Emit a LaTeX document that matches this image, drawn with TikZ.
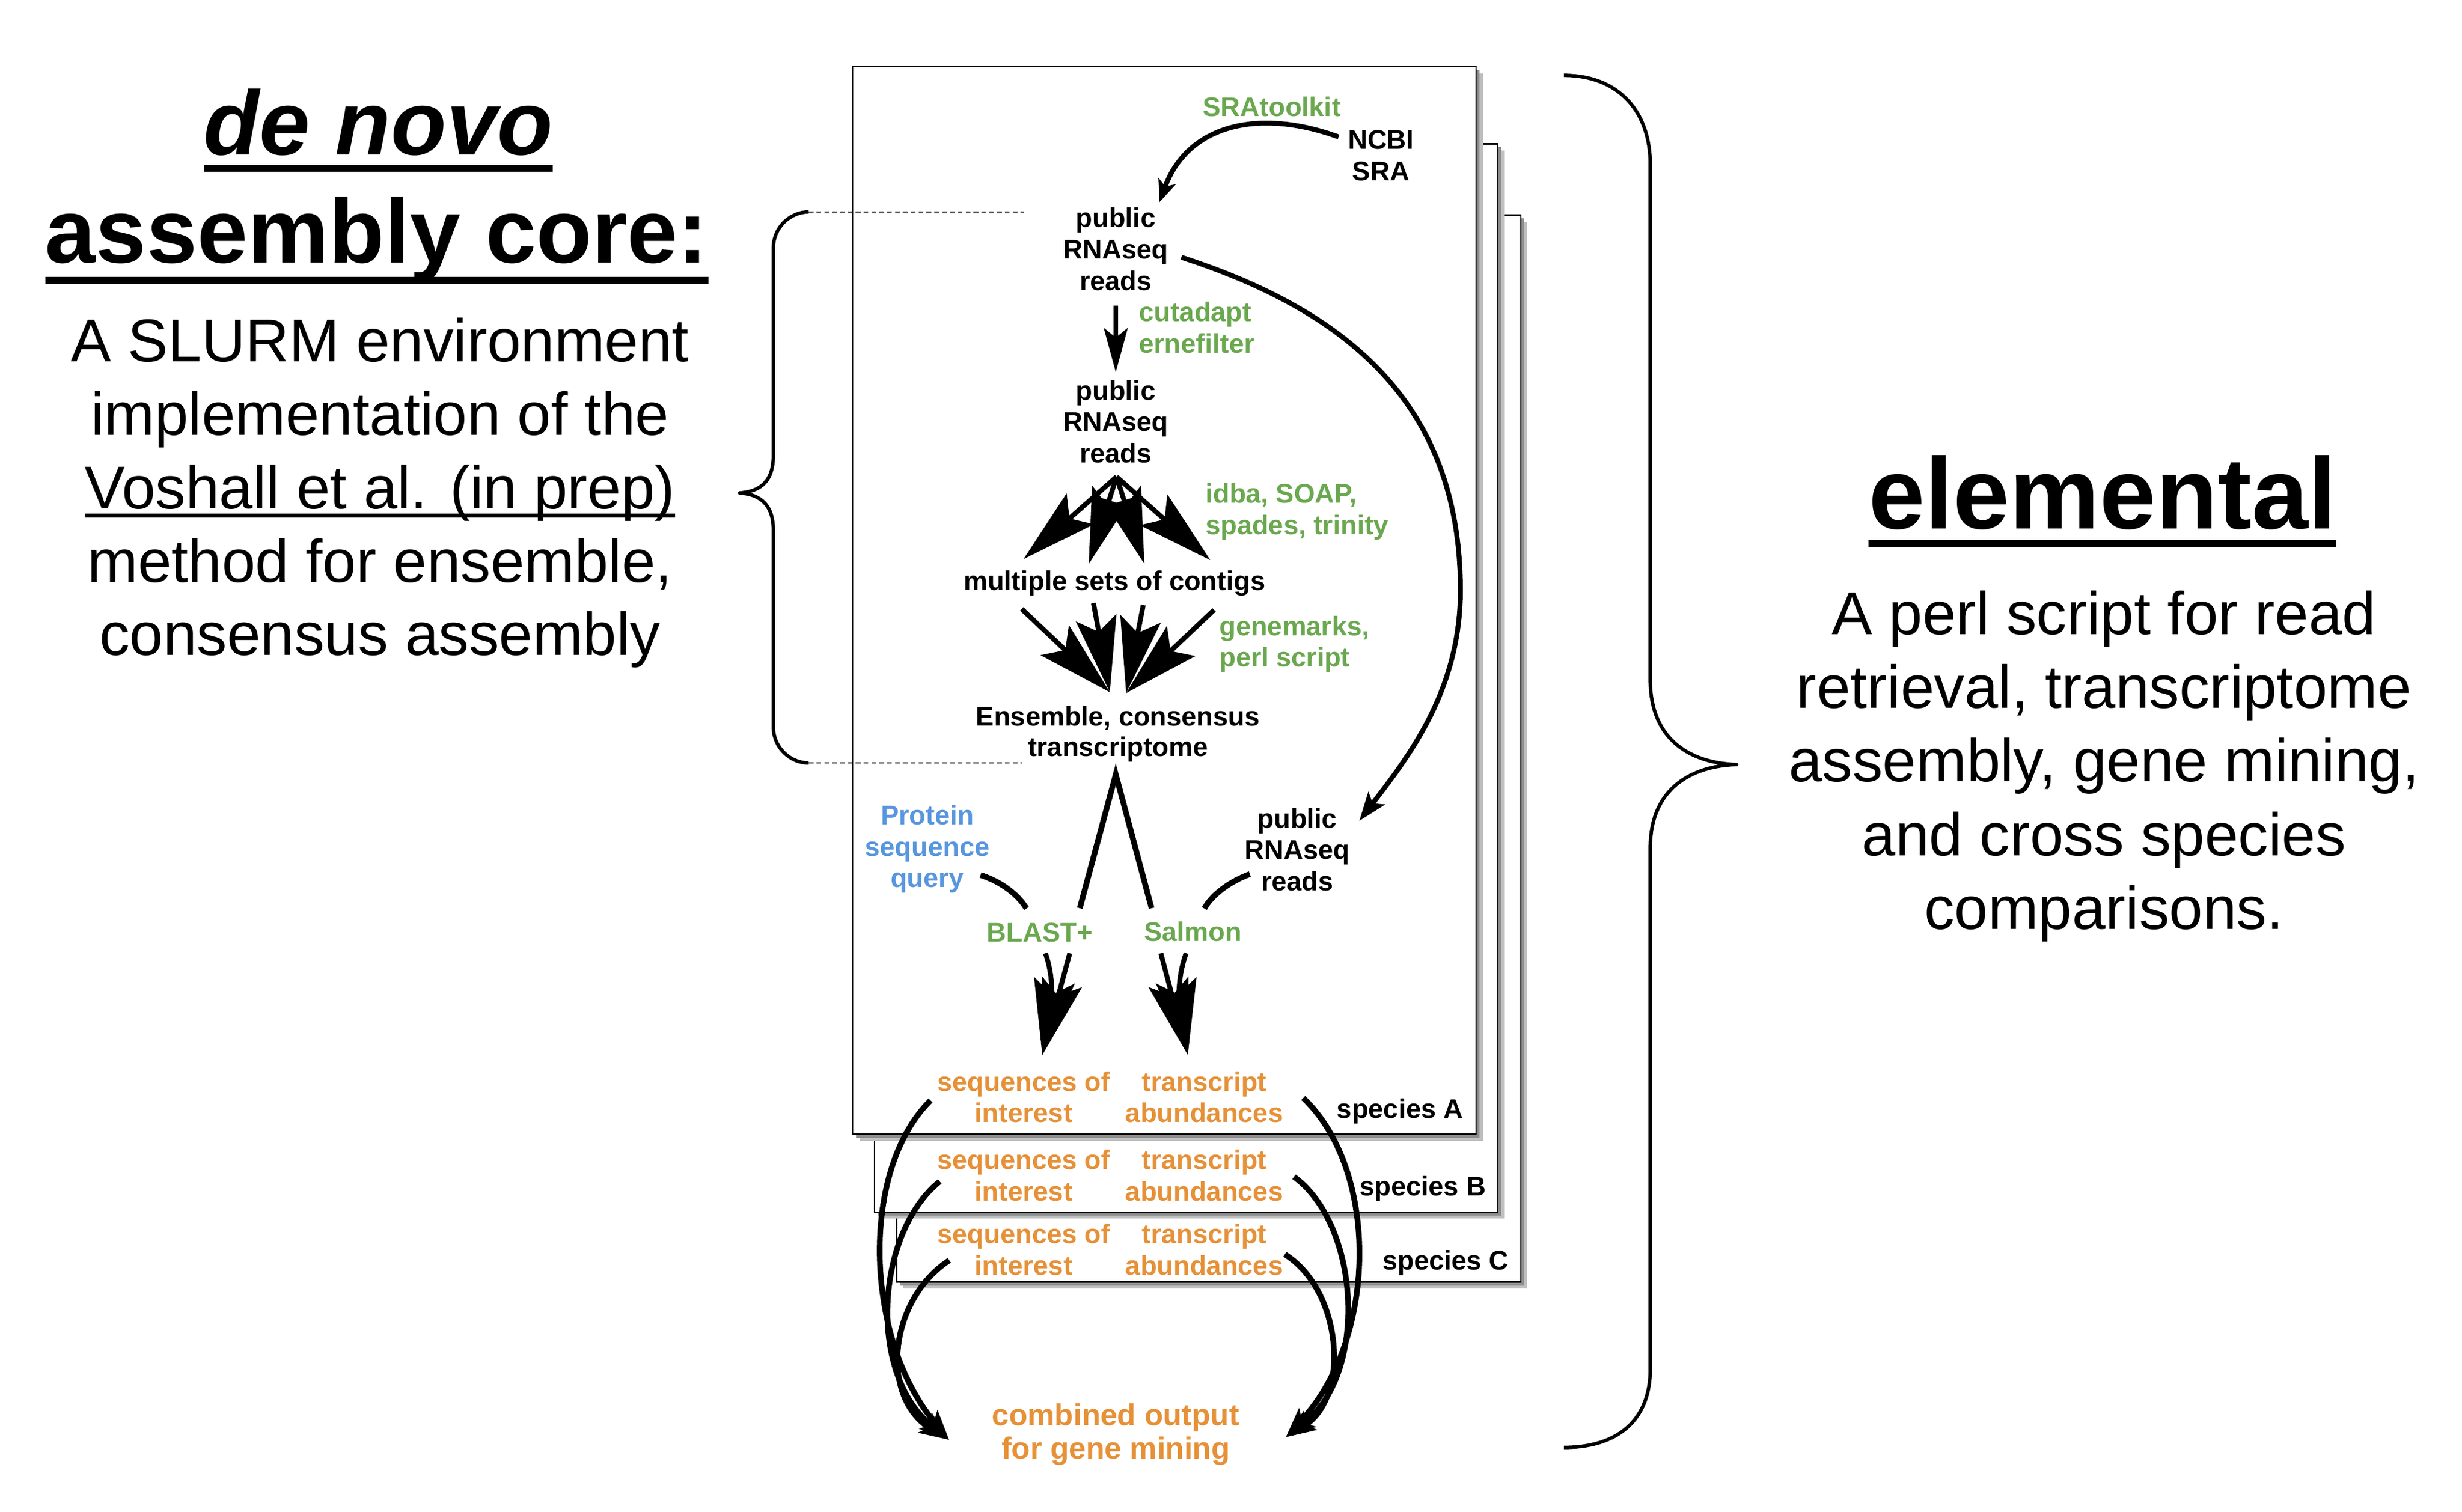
\documentclass[tikz,border=0pt]{standalone}
\usepackage{fontspec}
\setmainfont{Liberation Sans}
\usetikzlibrary{arrows.meta,calc}
\definecolor{tgreen}{RGB}{106,168,79}
\definecolor{tblue}{RGB}{88,150,222}
\definecolor{torange}{RGB}{230,145,56}
\newsavebox\ulbox
\newcommand\ulx[3]{\sbox\ulbox{#3}\rlap{\rule[-#1]{\wd\ulbox}{#2}}\usebox\ulbox}
\begin{document}
\begin{tikzpicture}[x=1pt,y=-1pt,
  lbl/.style={font=\fontsize{17.2}{20}\selectfont\bfseries, align=center, inner sep=0pt, anchor=base},
  lbll/.style={lbl, align=left, anchor=base west},
  grn/.style={text=tgreen},
  blu/.style={text=tblue},
  org/.style={text=torange},
  boxshape/.style={draw=black, line width=0.9pt, fill=white},
  flow/.style={line width=3.1pt},
  thickflow/.style={line width=3.6pt},
  bighead/.style={-{Stealth[length=48pt,width=26pt,inset=9pt]}},
  midhead/.style={-{Stealth[length=18pt,width=13pt,inset=4pt]}},
  lowhead/.style={-{Stealth[length=19pt,width=12.5pt,inset=4pt]}},
  smallhead/.style={-{Stealth[length=14pt,width=11.5pt,inset=3.5pt]}},
  cuthead/.style={-{Stealth[length=28pt,width=15pt,inset=6pt]}},
  dashline/.style={line width=0.8pt, dash pattern=on 3pt off 2pt},
  bracestyle/.style={line width=2.2pt, line join=round}
]
\useasboundingbox (0,0) rectangle (1568,963);

% ---------- stacked species boxes ----------
\coordinate (cA1) at (543,42.5);  \coordinate (cA2) at (940,722.6);
\coordinate (cB1) at (557,91.6);  \coordinate (cB2) at (954,772);
\coordinate (cC1) at (571,137);   \coordinate (cC2) at (968.5,816.6);
\foreach \p/\q in {cC1/cC2, cB1/cB2, cA1/cA2}{
  \fill[black!25] ($(\p)+(4.3,4.3)$) rectangle ($(\q)+(4.3,4.3)$);
  \fill[black!45] ($(\p)+(2.2,2.2)$) rectangle ($(\q)+(2.2,2.2)$);
  \draw[boxshape] (\p) rectangle (\q);
}

% ---------- left title ----------
\node[anchor=base, inner sep=0pt, font=\fontsize{58}{70}\selectfont\bfseries\itshape] (nT1) at (241,98.5) {\ulx{10.8pt}{4.3pt}{de novo}};
\node[anchor=base, inner sep=0pt, font=\fontsize{58}{70}\selectfont\bfseries] (nT2) at (240,167.5) {\ulx{13.2pt}{4.5pt}{assembly core:}};
\node[anchor=base, align=center, inner sep=0pt, font=\fontsize{38.5}{46.8}\selectfont] (nBodyL) at (242,417.5)
  {A SLURM environment\\implementation of the\\\ulx{5.75pt}{2.5pt}{Voshall et al. (in prep)}\\method for ensemble,\\consensus assembly};

% ---------- right title ----------
\node[anchor=base, inner sep=0pt, font=\fontsize{64.6}{78}\selectfont\bfseries] (nElem) at (1339,337) {\ulx{11.3pt}{4.5pt}{elemental}};
\node[anchor=base, align=center, inner sep=0pt, font=\fontsize{38.5}{47}\selectfont] (nBodyR) at (1340,592)
  {A perl script for read\\retrieval, transcriptome\\assembly, gene mining,\\and cross species\\comparisons.};

% ---------- braces ----------
\coordinate (lbTop) at (515,135);  \coordinate (lbTip) at (471,314);  \coordinate (lbBot) at (515,486);
\draw[bracestyle] (lbTop) .. controls (503,135) and (492.5,145) .. (492.5,158) -- (492.5,290)
  .. controls (492.5,306) and (485,313) .. (lbTip)
  .. controls (485,315) and (492.5,322) .. (492.5,338) -- (492.5,463)
  .. controls (492.5,476) and (503,486) .. (lbBot);
\coordinate (dTopE) at (652,135); \coordinate (dBotE) at (651,486);
\draw[dashline] (lbTop) -- (dTopE);
\draw[dashline] (lbBot) -- (dBotE);

\coordinate (rbTop) at (996,48); \coordinate (rbTip) at (1106,487); \coordinate (rbBot) at (996,922);
\draw[bracestyle] (rbTop) .. controls (1030,48) and (1051,70) .. (1051,105) -- (1051,433)
  .. controls (1051,470) and (1075,486) .. (rbTip)
  .. controls (1075,488) and (1051,504) .. (1051,540) -- (1051,872)
  .. controls (1051,905) and (1030,922) .. (rbBot);

% ---------- labels (anchor = baseline of last line) ----------
\node[lbl, grn] (nSRAtk) at (810,74) {SRAtoolkit};
\node[lbl] (nNCBI) at (879.5,115.1) {NCBI\\SRA};
\node[lbl] (nPub1) at (710.6,184.9) {public\\RNAseq\\reads};
\node[lbll, grn] (nCut) at (725.2,224.9) {cutadapt\\ernefilter};
\node[lbl] (nPub2) at (710.6,294.7) {public\\RNAseq\\reads};
\node[lbll, grn] (nIdba) at (767.6,340.5) {idba, SOAP,\\spades, trinity};
\node[lbl] (nContigs) at (709.8,376.1) {multiple sets of contigs};
\node[lbll, grn] (nGenem) at (776.4,424.8) {genemarks,\\perl script};
\node[lbl, font=\fontsize{17.2}{19.3}\selectfont\bfseries] (nEns) at (712,481.8) {Ensemble, consensus\\transcriptome};
\node[lbl, blu] (nProt) at (590.6,565.3) {Protein\\sequence\\query};
\node[lbl] (nPub3) at (826.2,567.4) {public\\RNAseq\\reads};
\node[lbl, grn] (nBlast) at (662.3,599.9) {BLAST+};
\node[lbl, grn] (nSalmon) at (759.7,599.5) {Salmon};
\node[lbl, org] (nSoiA) at (652,714.9) {sequences of\\interest};
\node[lbl, org] (nTaA) at (767,714.9) {transcript\\abundances};
\node[lbl, org] (nSoiB) at (652,765) {sequences of\\interest};
\node[lbl, org] (nTaB) at (767,765) {transcript\\abundances};
\node[lbl, org] (nSoiC) at (652,812.2) {sequences of\\interest};
\node[lbl, org] (nTaC) at (767,812.2) {transcript\\abundances};
\node[lbl, anchor=base east] (nSpA) at (932,712.4) {species A};
\node[lbl, anchor=base east] (nSpB) at (946.5,761.8) {species B};
\node[lbl, anchor=base east] (nSpC) at (961,809) {species C};
\node[lbl, org, font=\fontsize{19.4}{21.4}\selectfont\bfseries] (nComb) at (710.6,929.3) {combined output\\for gene mining};

% ---------- connectors ----------
% NCBI SRA -> public reads
\coordinate (sraS) at (852.5,87.2); \coordinate (sraT) at (738.5,128.7);
\draw[flow, smallhead] (sraS) .. controls (800.8,68.5) and (756.2,79.8) .. (sraT);
% cutadapt arrow
\coordinate (cutS) at (710.6,194.7); \coordinate (cutT) at (710.6,237.1);
\draw[flow, cuthead] (cutS) -- (cutT);
% assembler fan
\coordinate (fanA) at (711.1,303.7);
\coordinate (ft1) at (651.9,356.1); \coordinate (ft2) at (693.4,359.2);
\coordinate (ft3) at (728.8,359.2); \coordinate (ft4) at (770.8,356.8);
\foreach \t in {ft1,ft2,ft3,ft4} \draw[flow, bighead] (fanA) -- (\t);
% gene-mark fan
\coordinate (fb1) at (650.7,387.9); \coordinate (fb2) at (696.4,384.2);
\coordinate (fb3) at (728.1,385.4); \coordinate (fb4) at (773.2,388.5);
\coordinate (fe1) at (706.8,440.9); \coordinate (fe2) at (717.2,441.5);
\draw[flow, bighead] (fb1) -- (fe1);
\draw[flow, bighead] (fb2) -- (fe1);
\draw[flow, bighead] (fb3) -- (fe2);
\draw[flow, bighead] (fb4) -- (fe2);
% big arc: public reads -> lower public reads
\coordinate (arcS) at (752.4,163.9); \coordinate (arcM) at (930.1,376.1); \coordinate (arcT) at (865.7,522.9);
\draw[flow, midhead] (arcS) .. controls (864,200) and (930,262) .. (arcM) .. controls (930,440) and (897,482) .. (arcT);
% ensemble -> BLAST+ / Salmon
\coordinate (vL) at (687.7,578.5); \coordinate (vA) at (710.6,493.3); \coordinate (vR) at (733.4,578.5);
\draw[thickflow] (vL) -- (vA) -- (vR);
% protein query -> BLAST+
\coordinate (pcS) at (624.5,557.4); \coordinate (pcT) at (653.7,578.7);
\draw[thickflow] (pcS) .. controls (636,561) and (648,569) .. (pcT);
% lower public reads -> Salmon
\coordinate (rcS) at (796,556.8); \coordinate (rcT) at (767,578.7);
\draw[thickflow] (rcS) .. controls (784.5,561) and (772.5,569) .. (rcT);
% BLAST+ -> sequences of interest
\coordinate (bL) at (665.8,607.2); \coordinate (bR) at (681.3,607.2); \coordinate (bT) at (663.8,672);
\draw[flow, bighead] (bL) .. controls (672,625) and (669,640) .. (bT);
\draw[flow, bighead] (bR) -- (bT);
% Salmon -> transcript abundances
\coordinate (sL) at (739.3,607.2); \coordinate (sR) at (755.4,607.2); \coordinate (sT) at (756.5,672);
\draw[flow, bighead] (sL) -- (sT);
\draw[flow, bighead] (sR) .. controls (749,625) and (751.5,640) .. (sT);
% species outputs -> combined output
\coordinate (lT) at (604.5,917.2); \coordinate (rT) at (818.9,915.5);
\coordinate (lA) at (592.6,701); \coordinate (lB) at (598.5,752.6); \coordinate (lC) at (604.6,802.8);
\coordinate (rA) at (830,699.4); \coordinate (rB) at (824.1,749.6); \coordinate (rC) at (818.3,799);
\draw[thickflow, lowhead] (lA) .. controls (548,745) and (550,852) .. (lT);
\draw[thickflow, lowhead] (lB) .. controls (558,785) and (552,875) .. (lT);
\draw[thickflow, lowhead] (lC) .. controls (566,828) and (560,890) .. (lT);
\draw[thickflow, lowhead] (rA) .. controls (878,745) and (878,852) .. (rT);
\draw[thickflow, lowhead] (rB) .. controls (866,780) and (872,875) .. (rT);
\draw[thickflow, lowhead] (rC) .. controls (855,822) and (860,890) .. (rT);
\end{tikzpicture}
\end{document}
